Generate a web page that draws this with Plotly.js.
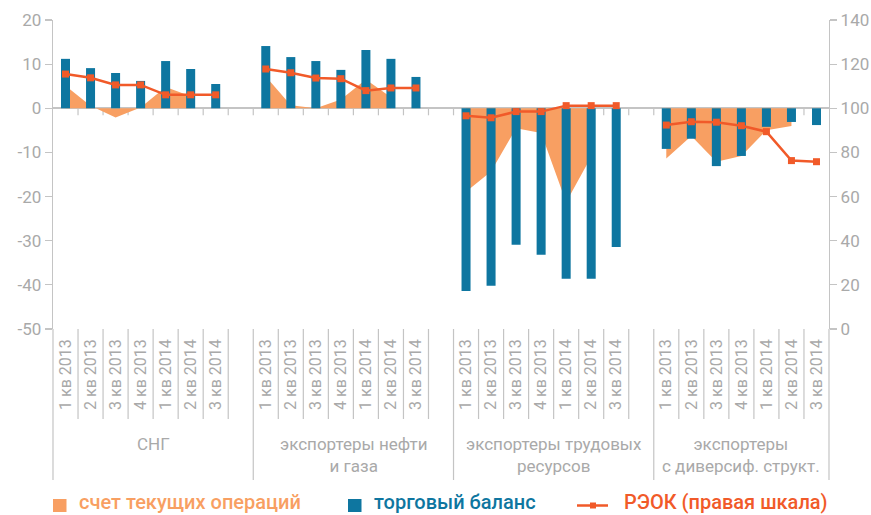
<!DOCTYPE html>
<html><head><meta charset="utf-8">
<script src="https://cdn.plot.ly/plotly-3.0.1.min.js"></script>
<style>html,body{margin:0;padding:0;background:#fff}#chart{width:871px;height:515px}</style>
</head><body><div id="chart"></div>
<script>
const quarters = ["1 кв 2013","2 кв 2013","3 кв 2013","4 кв 2013","1 кв 2014","2 кв 2014","3 кв 2014"];
const groupNames = ["СНГ","экспортеры нефти<br>и газа","экспортеры трудовых<br>ресурсов","экспортеры<br>с диверсиф. структ."];
const currentAccount = [
  5.1, 0.6, -2.1, 0.2, 4.8, 2.7, null,
  7.2, 0.7, 0.0, 2.0, 6.5, 2.5, null,
  -18.9, -14.3, -4.5, -5.6, -21.3, -11.0, null,
  -11.4, -6.3, -12.1, -10.8, -5.0, -4.0, null];
const tradeBalance = [
  11.2, 9.1, 8.0, 6.2, 10.7, 8.9, 5.5,
  14.1, 11.6, 10.7, 8.7, 13.2, 11.2, 7.1,
  -41.4, -40.2, -30.9, -33.2, -38.6, -38.6, -31.4,
  -9.2, -6.9, -13.1, -10.8, -4.2, -3.1, -3.8];
const reer = [
  115.5, 113.8, 110.6, 110.6, 106.1, 106.1, 106.1,
  117.8, 116.1, 113.7, 113.4, 108.0, 109.2, 109.2,
  96.6, 95.7, 98.5, 98.5, 101.2, 101.2, 101.2,
  92.4, 93.9, 93.7, 92.1, 89.4, 76.3, 75.8];
const leftTicks = [20, 10, 0, -10, -20, -30, -40, -50];
const leftTickText = ["20", "10", "0", "-10", "-20", "-30", "-40", "-50"];
const rightTicks = [0, 20, 40, 60, 80, 100, 120, 140];
const legendLabels = ["счет текущих операций", "торговый баланс", "РЭОК (правая шкала)"];

const colArea = "#f89f62", colBar = "#0e76a0", colLine = "#f15a29", gray = "#a9a9a9", axisGray = "#c4c4c4";
const nQ = quarters.length, nG = groupNames.length, step = nQ + 1;
const nSlots = nG * step - 1;
const xs = [], labels = [];
for (let g = 0; g < nG; g++) for (let k = 0; k < nQ; k++) { xs.push(g * step + k + 0.5); labels.push(quarters[k]); }

const traces = [];
for (let g = 0; g < nG; g++) {
  const ax = [], ay = [];
  for (let k = 0; k < nQ; k++) { const i = g * nQ + k; if (currentAccount[i] !== null) { ax.push(xs[i]); ay.push(currentAccount[i]); } }
  traces.push({type: "scatter", mode: "none", x: ax, y: ay, fill: "tozeroy", fillcolor: colArea,
    xaxis: "x", yaxis: "y", showlegend: false, hoverinfo: "skip"});
}
traces.push({type: "bar", x: xs, y: tradeBalance, width: 0.36, marker: {color: colBar},
  xaxis: "x", yaxis: "y2", showlegend: false});
const lx = [], ly = [];
for (let g = 0; g < nG; g++) {
  for (let k = 0; k < nQ; k++) { lx.push(xs[g * nQ + k]); ly.push(reer[g * nQ + k]); }
  if (g < nG - 1) { lx.push(g * step + nQ + 0.5); ly.push(null); }
}
traces.push({type: "scatter", mode: "lines+markers", x: lx, y: ly, connectgaps: false,
  line: {color: colLine, width: 2.5}, marker: {symbol: "square", size: 7, color: colLine},
  xaxis: "x", yaxis: "y3", showlegend: false});

const W = 871, H = 515, mL = 53, mR = 42, mT = 20, mB = 186;
const plotW = W - mL - mR, plotH = H - mT - mB;
const py = p => (H - mB - p) / plotH;
const px = p => (p - mL) / plotW;

const shapes = [];
for (let b = 0; b <= nSlots; b++) {
  const isLong = (b % step === 0) || b === nSlots;
  shapes.push({type: "line", xref: "paper", yref: "paper", x0: b / nSlots, x1: b / nSlots,
    y0: 0, y1: isLong ? py(480) : py(419), line: {color: axisGray, width: 1.2}, layer: "below"});
  if (b > 0 && b < nSlots) {
    shapes.push({type: "line", xref: "paper", yref: "y", ysizemode: "pixel", yanchor: 0,
      x0: b / nSlots, x1: b / nSlots, y0: 0, y1: -7, line: {color: axisGray, width: 1.2}, layer: "below"});
  }
}
shapes.push({type: "rect", xref: "paper", yref: "paper", x0: px(53), x1: px(66.5), y0: py(512), y1: py(499), fillcolor: colArea, line: {width: 0}});
shapes.push({type: "rect", xref: "paper", yref: "paper", x0: px(348), x1: px(361.5), y0: py(512), y1: py(499), fillcolor: colBar, line: {width: 0}});
shapes.push({type: "line", xref: "paper", yref: "paper", x0: px(577), x1: px(608), y0: py(505.5), y1: py(505.5), line: {color: colLine, width: 2.5}});
shapes.push({type: "rect", xref: "paper", yref: "paper", x0: px(590), x1: px(596), y0: py(508.5), y1: py(502.5), fillcolor: colLine, line: {width: 0}});

const annotations = [];
for (let g = 0; g < nG; g++) {
  const start = g * step, end = Math.min(g * step + step, nSlots);
  annotations.push({xref: "x", yref: "paper", x: (start + end) / 2, y: py(432), yanchor: "top", xanchor: "center",
    text: groupNames[g], showarrow: false, align: "center",
    font: {family: "Roboto, sans-serif", size: 17, color: gray}});
}
const legendX = [78, 373, 623], legendCol = [colArea, colBar, colLine];
for (let i = 0; i < 3; i++) {
  annotations.push({xref: "paper", yref: "paper", x: px(legendX[i]), y: py(502), xanchor: "left", yanchor: "middle",
    text: legendLabels[i], showarrow: false, borderpad: 0,
    font: {family: "Roboto, sans-serif", size: 20, color: legendCol[i], weight: 500}});
}

const tickFont = {family: "Roboto, sans-serif", size: 17, color: gray};
const layout = {
  width: W, height: H, margin: {l: mL, r: mR, t: mT, b: mB},
  paper_bgcolor: "#fff", plot_bgcolor: "rgba(0,0,0,0)",
  showlegend: false, barmode: "overlay",
  xaxis: {range: [0, nSlots], tickvals: xs, ticktext: labels, tickangle: -90, ticks: "",
    showgrid: false, zeroline: false, showline: false, fixedrange: true,
    tickfont: {family: "Roboto, sans-serif", size: 16, color: gray}, ticklabelstandoff: 6},
  yaxis: {range: [-50, 20], tickvals: leftTicks, ticktext: leftTickText, showgrid: false,
    zeroline: true, zerolinecolor: axisGray, zerolinewidth: 2,
    showline: true, linecolor: axisGray, linewidth: 1.2, ticks: "outside", ticklen: 7, tickcolor: axisGray, tickwidth: 1.2,
    tickfont: tickFont},
  yaxis2: {range: [-50, 20], overlaying: "y", visible: false},
  yaxis3: {range: [0, 140], overlaying: "y", side: "right", tickvals: rightTicks, showgrid: false, zeroline: false,
    showline: true, linecolor: axisGray, linewidth: 1.2, ticks: "outside", ticklen: 7, tickcolor: axisGray, tickwidth: 1.2,
    tickfont: tickFont},
  shapes: shapes, annotations: annotations
};
Plotly.newPlot("chart", traces, layout, {displayModeBar: false, staticPlot: true});
</script></body></html>
